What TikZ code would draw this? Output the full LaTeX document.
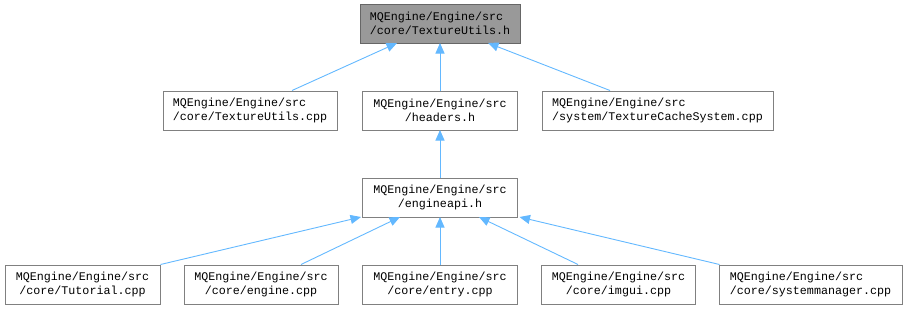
\documentclass[tikz,border=0pt]{standalone}
\usepackage{fontspec}
\setmonofont{Liberation Mono}
\usetikzlibrary{arrows.meta}
\definecolor{edgeblue}{HTML}{63B8FF}
\definecolor{boxline}{HTML}{808080}
\definecolor{rootfill}{HTML}{999999}
\definecolor{rootline}{HTML}{666666}
\tikzset{
  filebox/.style={draw=boxline, line width=1pt, fill=white, inner sep=0pt,
    minimum height=39pt, font=\ttfamily\fontsize{11.7}{14}\selectfont},
  rootbox/.style={filebox, draw=rootline, fill=rootfill},
  dep/.style={draw=edgeblue, line width=0.9pt,
    -{Triangle[length=10.5pt,width=9pt,fill=edgeblue]}}
}
\begin{document}
\begin{tikzpicture}[x=1pt,y=-1pt]
\useasboundingbox (0,0) rectangle (907,309);

% header under inspection
\node[rootbox, minimum width=160pt, align=left] (root) at (440,23.5)
  {MQEngine/Engine/src\\/core/TextureUtils.h};

% direct includers
\node[filebox, minimum width=174pt, align=left] (tucpp) at (250,110.5)
  {MQEngine/Engine/src\\/core/TextureUtils.cpp};
\node[filebox, minimum width=155pt, align=center] (hdr) at (440,110.5)
  {MQEngine/Engine/src\\/headers.h};
\node[filebox, minimum width=231pt, align=left] (tcs) at (657.5,110.5)
  {MQEngine/Engine/src\\/system/TextureCacheSystem.cpp};

% aggregated api header
\node[filebox, minimum width=155pt, align=center] (api) at (440,197.5)
  {MQEngine/Engine/src\\/engineapi.h};

% sources including the api header
\node[filebox, minimum width=155pt, align=center] (tut) at (82.5,284.5)
  {MQEngine/Engine/src\\/core/Tutorial.cpp};
\node[filebox, minimum width=154pt, align=center] (eng) at (261,284.5)
  {MQEngine/Engine/src\\/core/engine.cpp};
\node[filebox, minimum width=155pt, align=center] (ent) at (440,284.5)
  {MQEngine/Engine/src\\/core/entry.cpp};
\node[filebox, minimum width=154pt, align=center] (img) at (618.5,284.5)
  {MQEngine/Engine/src\\/core/imgui.cpp};
\node[filebox, minimum width=183pt, align=left] (sys) at (810.5,284.5)
  {MQEngine/Engine/src\\/core/systemmanager.cpp};

% include edges, pointing at the included file
\draw[dep] ([xshift=42pt]tucpp.north) -- ([xshift=-43pt,yshift=0.5pt]root.south);
\draw[dep] (hdr.north) -- ([yshift=0.5pt]root.south);
\draw[dep] ([xshift=-47.5pt]tcs.north) -- ([xshift=48pt,yshift=0.5pt]root.south);

\draw[dep] (api.north) -- ([yshift=0.5pt]hdr.south);

\draw[dep] (tut.north east) -- ([xshift=-1pt,yshift=0.5pt]api.south west);
\draw[dep] ([xshift=40pt]eng.north) -- ([xshift=-40pt,yshift=0.5pt]api.south);
\draw[dep] (ent.north) -- ([yshift=0.5pt]api.south);
\draw[dep] ([xshift=-40.5pt]img.north) -- ([xshift=39pt,yshift=0.5pt]api.south);
\draw[dep] ([xshift=1pt]sys.north west) -- ([xshift=1.5pt,yshift=0.5pt]api.south east);
\end{tikzpicture}
\end{document}
